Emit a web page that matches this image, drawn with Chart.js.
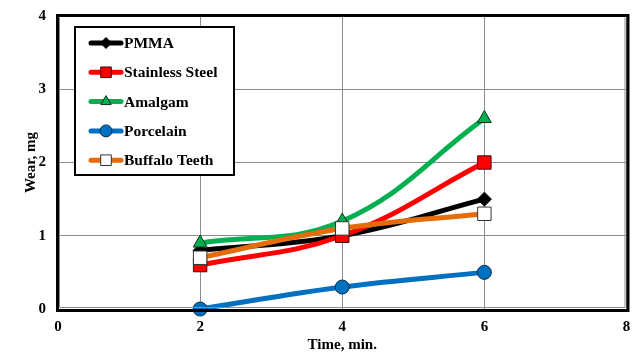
<!DOCTYPE html>
<html>
<head>
<meta charset="utf-8">
<script src="https://cdn.jsdelivr.net/npm/chart.js@4/dist/chart.umd.min.js"></script>
<style>
  html, body { margin: 0; padding: 0; background: #fff; overflow: hidden; }
  #wrap { width: 633px; height: 356px; overflow: hidden; }
</style>
</head>
<body>
<div id="wrap"><canvas id="c" width="637" height="356"></canvas></div>
<script>
// Wear of opposing materials against time
const times = [2, 4, 6];
const seriesNames = ['PMMA', 'Stainless Steel', 'Amalgam', 'Porcelain', 'Buffalo Teeth'];
const pmma = [0.8, 1.0, 1.5];
const stainlessSteel = [0.6, 1.0, 2.0];
const amalgam = [0.9, 1.2, 2.6];
const porcelain = [0.0, 0.3, 0.5];
const buffaloTeeth = [0.7, 1.1, 1.3];
const xTicks = [0, 2, 4, 6, 8];
const yTicks = [0, 1, 2, 3, 4];

const FONT = '"Liberation Serif", "Times New Roman", serif';

const styles = [
  { line: '#000000', fill: '#000000', edge: '#000000', shape: 'rectRot', r: 7 },
  { line: '#FF0000', fill: '#FF0000', edge: '#3a1010', shape: 'rect', r: 9.5 },
  { line: '#00B050', fill: '#00B050', edge: '#10301c', shape: 'triangle', r: 8 },
  { line: '#0070C0', fill: '#0070C0', edge: '#0c2a44', shape: 'circle', r: 7 },
  { line: '#E46C0A', fill: '#FFFFFF', edge: '#333333', shape: 'rect', r: 9.5 }
];
const values = [pmma, stainlessSteel, amalgam, porcelain, buffaloTeeth];

const datasets = seriesNames.map((name, i) => ({
  label: name,
  data: times.map((t, k) => ({ x: t, y: values[i][k] })),
  borderColor: styles[i].line,
  borderWidth: 5,
  backgroundColor: styles[i].fill,
  pointBackgroundColor: styles[i].fill,
  pointBorderColor: styles[i].edge,
  pointBorderWidth: 1,
  pointStyle: styles[i].shape,
  pointRadius: styles[i].r,
  pointHoverRadius: styles[i].r,
  tension: 0.4,
  order: seriesNames.length - i,
  clip: false
}));

// double-edged frame around the plot area
const framePlugin = {
  id: 'frame',
  afterDraw(chart) {
    const { ctx, chartArea: a } = chart;
    ctx.save();
    ctx.strokeStyle = '#000';
    ctx.lineWidth = 3;
    ctx.strokeRect(a.left - 0.5, a.top - 0.5, a.right - a.left + 2, a.bottom - a.top + 2);
    ctx.strokeStyle = '#8a8a8a';
    ctx.lineWidth = 1;
    ctx.beginPath();
    ctx.moveTo(a.left + 1.5, a.top + 1.5);
    ctx.lineTo(a.left + 1.5, a.bottom - 1.5);
    ctx.lineTo(a.right - 1.5, a.bottom - 1.5);
    ctx.lineTo(a.right - 1.5, a.top + 1.5);
    ctx.stroke();
    ctx.restore();
  }
};

// boxed legend inside the plot area
const legendBoxPlugin = {
  id: 'legendBox',
  afterDraw(chart) {
    const { ctx } = chart;
    const bx = 75, by = 27, bw = 159, bh = 148;
    ctx.save();
    ctx.fillStyle = '#fff';
    ctx.fillRect(bx, by, bw, bh);
    ctx.strokeStyle = '#000';
    ctx.lineWidth = 2;
    ctx.strokeRect(bx, by, bw, bh);
    ctx.font = 'bold 15.5px ' + FONT;
    ctx.textBaseline = 'middle';
    chart.data.datasets.forEach((ds, i) => {
      const y = 43 + i * 29.3;
      ctx.strokeStyle = ds.borderColor;
      ctx.lineWidth = 5;
      ctx.lineCap = 'round';
      ctx.beginPath();
      ctx.moveTo(91, y);
      ctx.lineTo(121, y);
      ctx.stroke();
      ctx.lineCap = 'butt';
      ctx.fillStyle = ds.pointBackgroundColor;
      ctx.strokeStyle = ds.pointBorderColor;
      ctx.lineWidth = 1;
      Chart.helpers.drawPoint(ctx, {
        pointStyle: ds.pointStyle,
        radius: ds.pointStyle === 'rect' ? 7.5 : (ds.pointStyle === 'rectRot' ? 5.5 : 6),
        borderWidth: 1
      }, 106, y);
      ctx.fillStyle = '#000';
      ctx.fillText(ds.label, 124, y + 1);
    });
    ctx.restore();
  }
};

const tickFont = { family: FONT, size: 15, weight: 'bold' };

new Chart(document.getElementById('c'), {
  type: 'line',
  data: { datasets },
  options: {
    responsive: false,
    animation: false,
    events: [],
    layout: { padding: { top: 16, right: 2, left: 0, bottom: 0 } },
    plugins: { legend: { display: false }, tooltip: { enabled: false } },
    scales: {
      x: {
        type: 'linear',
        min: 0, max: 8,
        afterBuildTicks(scale) { scale.ticks = xTicks.map(v => ({ value: v })); },
        afterFit(scale) { scale.height = 47; scale.paddingLeft = 0; scale.paddingRight = 0; },
        grid: { color: '#8c8c8c', lineWidth: 1, drawTicks: false },
        border: { display: false },
        ticks: { color: '#000', font: tickFont, padding: 9, maxRotation: 0 },
        title: { display: true, text: 'Time, min.', color: '#000', font: tickFont, padding: { top: 1, bottom: 2 } }
      },
      y: {
        type: 'linear',
        min: 0, max: 4,
        afterBuildTicks(scale) { scale.ticks = yTicks.map(v => ({ value: v })); },
        afterFit(scale) { scale.width = 58; scale.paddingTop = 0; scale.paddingBottom = 0; },
        grid: { color: '#8c8c8c', lineWidth: 1, drawTicks: false },
        border: { display: false },
        ticks: { color: '#000', font: tickFont, padding: 12 },
        title: { display: true, text: 'Wear, mg', color: '#000', font: tickFont, padding: { top: 22, bottom: 0 } }
      }
    }
  },
  plugins: [framePlugin, legendBoxPlugin]
});
</script>
</body>
</html>
